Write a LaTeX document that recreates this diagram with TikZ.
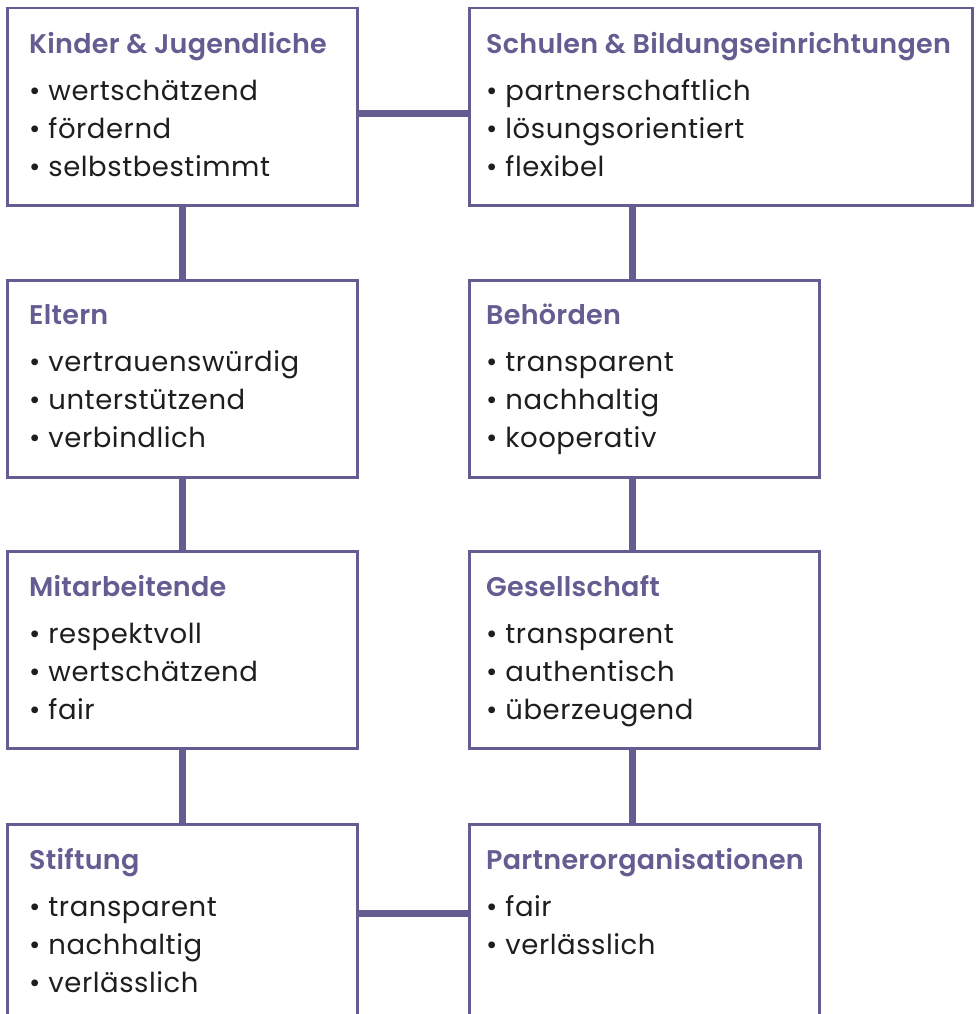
\documentclass[tikz,border=0pt]{standalone}
\usepackage{fontspec}
\setmainfont{Poppins}[LetterSpace=2]
\newfontfamily\titelfont{Poppins}[UprightFont=* SemiBold, LetterSpace=1]
\definecolor{lila}{RGB}{101,92,145}
\definecolor{tinte}{RGB}{30,30,32}
\newcommand{\titel}[1]{\textcolor{lila}{\titelfont\fontsize{27}{38}\selectfont #1}}

\begin{document}
\begin{tikzpicture}[x=1pt, y=-1pt,
	karte/.style={draw=lila, line width=2.5pt, fill=white, anchor=north west, inner sep=0pt, minimum height=197pt},
	schmal/.style={karte, minimum width=350pt},
	breit/.style={karte, minimum width=503pt},
	inhalt/.style={anchor=north west, inner sep=0pt, align=left, text=tinte, font=\fontsize{27.5}{38}\selectfont},
	band/.style={draw=lila, line width=7pt}]
	\useasboundingbox (0,0) rectangle (976,1014);
	\clip (0,0) rectangle (976,1014);
	% linke Spalte
	\node[schmal] (kinder)   at (6,7)   {};
	\node[schmal] (eltern)   at (6,279) {};
	\node[schmal] (mitarb)   at (6,550) {};
	\node[schmal] (stiftung) at (6,823) {};
	% rechte Spalte
	\node[breit]  (schulen)   at (468,7)   {};
	\node[schmal] (behoerden) at (468,279) {};
	\node[schmal] (gesell)    at (468,550) {};
	\node[schmal] (partner)   at (468,823) {};
	% Texte
	\node[inhalt] (kinder-t) at ([shift={(23,25)}]kinder.north west)
		{\titel{Kinder \& Jugendliche}\\[9pt] \textbullet\ wertschätzend\\ \textbullet\ fördernd\\ \textbullet\ selbstbestimmt};
	\node[inhalt] (eltern-t) at ([shift={(23,25)}]eltern.north west)
		{\titel{Eltern}\\[9pt] \textbullet\ vertrauenswürdig\\ \textbullet\ unterstützend\\ \textbullet\ verbindlich};
	\node[inhalt] (mitarb-t) at ([shift={(23,25)}]mitarb.north west)
		{\titel{Mitarbeitende}\\[9pt] \textbullet\ respektvoll\\ \textbullet\ wertschätzend\\ \textbullet\ fair};
	\node[inhalt] (stiftung-t) at ([shift={(23,25)}]stiftung.north west)
		{\titel{Stiftung}\\[9pt] \textbullet\ transparent\\ \textbullet\ nachhaltig\\ \textbullet\ verlässlich};
	\node[inhalt] (schulen-t) at ([shift={(18,25)}]schulen.north west)
		{\titel{Schulen \& Bildungseinrichtungen}\\[9pt] \textbullet\ partnerschaftlich\\ \textbullet\ lösungsorientiert\\ \textbullet\ flexibel};
	\node[inhalt] (behoerden-t) at ([shift={(18,25)}]behoerden.north west)
		{\titel{Behörden}\\[9pt] \textbullet\ transparent\\ \textbullet\ nachhaltig\\ \textbullet\ kooperativ};
	\node[inhalt] (gesell-t) at ([shift={(18,25)}]gesell.north west)
		{\titel{Gesellschaft}\\[9pt] \textbullet\ transparent\\ \textbullet\ authentisch\\ \textbullet\ überzeugend};
	\node[inhalt] (partner-t) at ([shift={(18,25)}]partner.north west)
		{\titel{Partnerorganisationen}\\[9pt] \textbullet\ fair\\ \textbullet\ verlässlich};
	% Verbindungen
	\draw[band] ([yshift=-6.5pt]kinder.east) -- ([yshift=-6.5pt]schulen.west);
	\draw[band] ([yshift=9.5pt]stiftung.east) -- ([yshift=9.5pt]partner.west);
	\draw[band] (kinder.south) -- (eltern.north);
	\draw[band] (eltern.south) -- (mitarb.north);
	\draw[band] (mitarb.south) -- (stiftung.north);
	\draw[band] ([xshift=-12pt]behoerden.north) -- ([xshift=-12pt]behoerden.north |- schulen.south);
	\draw[band] ([xshift=-12pt]behoerden.south) -- ([xshift=-12pt]gesell.north);
	\draw[band] ([xshift=-12pt]gesell.south) -- ([xshift=-12pt]partner.north);
\end{tikzpicture}
\end{document}
